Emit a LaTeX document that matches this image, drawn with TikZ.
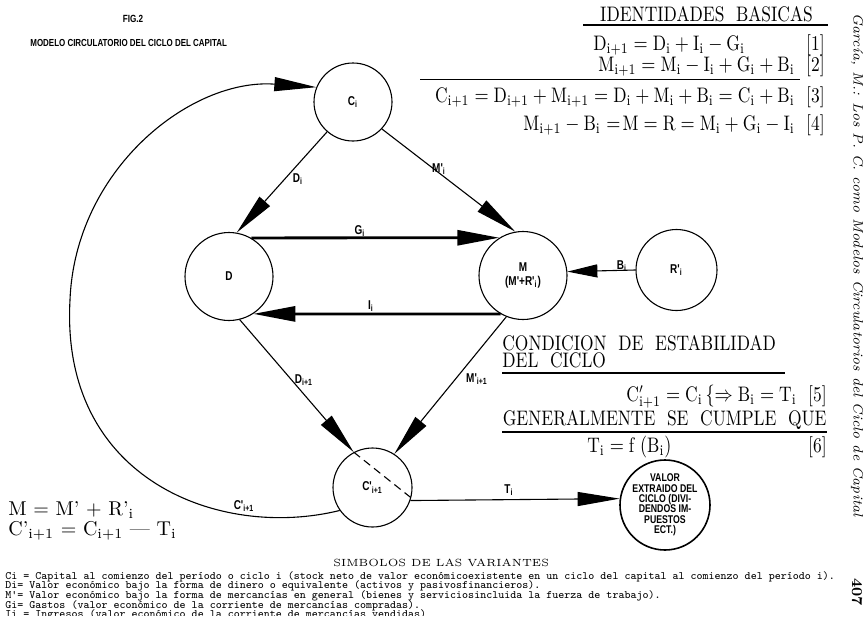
\documentclass[tikz,border=0pt]{standalone}
\usepackage{fontspec}
\newfontfamily\csans{Liberation Sans}[FakeStretch=0.78]
\usetikzlibrary{arrows.meta}
\newcommand{\lsub}[1]{\textsubscript{#1}}
\newcommand{\sqz}[1]{\scalebox{0.83}[1]{#1}}
\tikzset{
  circ/.style={circle, draw, line width=0.55pt, inner sep=0pt, font=\fontsize{6.4}{7}\csans\bfseries\selectfont, align=center},
  sml/.style={font=\fontsize{6.4}{7}\csans\bfseries\selectfont, inner sep=0pt},
  conn/.style={line width=0.55pt, -{Triangle[length=21pt,width=7pt]}},
  thickconn/.style={line width=1.4pt, -{Triangle[length=21pt,width=7.5pt]}},
  eqr/.style={font=\fontsize{10.5}{12}\selectfont, inner sep=0pt, anchor=base east},
  eql/.style={font=\fontsize{10.5}{12}\selectfont, inner sep=0pt, anchor=base west},
  bleq/.style={font=\fontsize{10}{12}\selectfont, inner sep=0pt, anchor=base west},
  legend/.style={font=\fontsize{5.66}{6}\ttfamily\selectfont, inner sep=0pt, anchor=base west},
  rulel/.style={line width=0.7pt}
}
\begin{document}
\begin{tikzpicture}[x=0.5pt,y=-0.5pt]
\useasboundingbox (0,0) rectangle (868,628);
\clip (0,0) rectangle (868,628);
\fill[white] (0,0) rectangle (868,628);

% titles
\node[sml, font=\fontsize{5.2}{6}\csans\bfseries\selectfont, anchor=base] (fig) at (133,22) {FIG.2};
\node[sml, font=\fontsize{5.1}{6}\csans\bfseries\selectfont, anchor=base west] (title) at (30,46) {MODELO CIRCULATORIO DEL CICLO DEL CAPITAL};

% circles
\node[circ, minimum size=39pt] (ci) at (353,102) {C\lsub{i}};
\node[circ, minimum size=44pt] (d) at (229,276.5) {D};
\node[circ, minimum size=44pt] (m) at (523,275.5) {M\\(M'+R'\lsub{i})};
\node[circ, minimum size=40.5pt] (r) at (676.5,270) {R'\lsub{i}};
\node[circ, minimum size=39.5pt] (cp) at (372.5,487.5) {C'\lsub{i+1}};
\node[circ, minimum size=33pt, line width=0.8pt, font=\fontsize{5.6}{5.2}\csans\bfseries\selectfont] (v) at (665,505) {VALOR\\EXTRAIDO DEL\\CICLO (DIVI-\\DENDOS IM-\\PUESTOS\\ECT.)};

% connectors
\draw[conn] (ci.229) -- (d.80);
\draw[conn] (ci.-43) -- (m.100);
\draw[thickconn] (d.60) -- (m.122.5);
\draw[thickconn] (m.-120) -- (d.-57);
\draw[line width=0.55pt, -{Triangle[length=15pt,width=6.5pt]}] (r.180) -- (m.5);
\draw[conn] (d.-76) -- (cp.118);
\draw[conn] (m.-112) -- (cp.57);
\draw[conn] (cp.-19) -- (v.172);
\draw[line width=0.55pt, dash pattern=on 4pt off 2.5pt] (cp.118) -- (cp.-15);
\draw[conn] (cp.215) .. controls (220,540) and (60,480) .. (70,300)
                     .. controls (75,170) and (190,78) .. (ci.158);

% connector labels
\node[sml] (lDi) at (298,179) {D\lsub{i}};
\node[sml] (lMi) at (439,169) {M'\lsub{i}};
\node[sml] (lGi) at (360,231) {G\lsub{i}};
\node[sml] (lIi) at (371,306) {I\lsub{i}};
\node[sml] (lBi) at (622,266) {B\lsub{i}};
\node[sml] (lDi1) at (304,380) {D\lsub{i+1}};
\node[sml] (lMi1) at (477,379) {M'\lsub{i+1}};
\node[sml] (lTi) at (509,490) {T\lsub{i}};
\node[sml] (lCp) at (244,506) {C'\lsub{i+1}};

% identities
\node[font=\fontsize{10.5}{12}\selectfont, inner sep=0pt, anchor=base] (idt) at (706.5,21) {\sqz{IDENTIDADES\ \ BASICAS}};
\draw[rulel] (583,25) -- (828,25);
\node[eql] (e1) at (593,50) {\sqz{$\mathrm{D_{i+1} = D_i + I_i - G_i}$}};
\node[eqr] (e1n) at (825,50) {\sqz{[1]}};
\node[eqr] (e2) at (825,71) {\sqz{$\mathrm{M_{i+1} = M_i - I_i + G_i + B_i}$\ \ [2]}};
\draw[rulel] (420,79.5) -- (800,79.5);
\node[eqr] (e3) at (825,102) {\sqz{$\mathrm{C_{i+1} = D_{i+1} + M_{i+1} = D_i + M_i + B_i = C_i + B_i}$\ \ [3]}};
\node[eqr] (e4) at (825,130) {\sqz{$\mathrm{M_{i+1} - B_i}$ $\mathrm{=\!M = R = M_i + G_i - I_i}$\ \ [4]}};

% stability
\node[eql] (c1) at (502,350) {\sqz{CONDICION\ \ DE\ \ ESTABILIDAD}};
\node[eql] (c2) at (502,367) {\sqz{DEL\ \ CICLO}};
\draw[rulel] (502,373) -- (785,373);
\node[eqr] (e5) at (827,401) {\sqz{$\mathrm{C'_{i+1} = C_i}\,\{\Rightarrow \mathrm{B_i = T_i}$\ \ [5]}};
\node[eqr] (g1) at (827,425) {\sqz{GENERALMENTE\ \ SE\ \ CUMPLE\ \ QUE}};
\draw[rulel] (502,432) -- (827,432);
\node[eql] (e6) at (587,452) {\sqz{$\mathrm{T_i = f\ (B_i)}$}};
\node[eqr] (e6n) at (827,452) {\sqz{[6]}};

% bottom-left
\node[bleq] (bl1) at (8,515) {M = M' + R'$_{\mathrm{i}}$};
\node[bleq] (bl2) at (8,535) {C'$_{\mathrm{i+1}}$ = C$_{\mathrm{i+1}}$ --- T$_{\mathrm{i}}$};

% legend
\node[font=\fontsize{5.2}{6}\selectfont, inner sep=0pt, anchor=base west] (sv) at (333,566) {SIMBOLOS DE LAS VARIANTES};
\node[legend] (l1) at (5,579) {Ci = Capital al comienzo del per\'{\i}odo o ciclo i (stock neto de valor econ\'omicoexistente en un ciclo del capital al comienzo del per\'{\i}odo i).};
\node[legend] (l2) at (5,588.7) {Di= Valor econ\'omico bajo la forma de dinero o equivalente (activos y pasivosfinancieros).};
\node[legend] (l3) at (5,598.4) {M'= Valor econ\'omico bajo la forma de mercanc\'{\i}as en general (bienes y serviciosincluida la fuerza de trabajo).};
\node[legend] (l4) at (5,608.1) {Gi= Gastos (valor econ\'omico de la corriente de mercanc\'{\i}as compradas).};
\begin{scope}
\clip (0,0) rectangle (868,615);
\node[legend] (l5) at (5,617.8) {Ii = Ingresos (valor econ\'omico de la corriente de mercanc\'{\i}as vendidas)};
\end{scope}

% vertical running head
\node[font=\fontsize{6.8}{9}\itshape\selectfont, inner sep=0pt, rotate=-90] (rh) at (857,265) {Garc\'{\i}a, M.: Los P. C. como Modelos Circulatorios del Ciclo de Capital};
\node[font=\fontsize{7.5}{9}\bfseries\selectfont, inner sep=0pt, rotate=-90] (pg) at (857,592) {407};
\end{tikzpicture}
\end{document}
